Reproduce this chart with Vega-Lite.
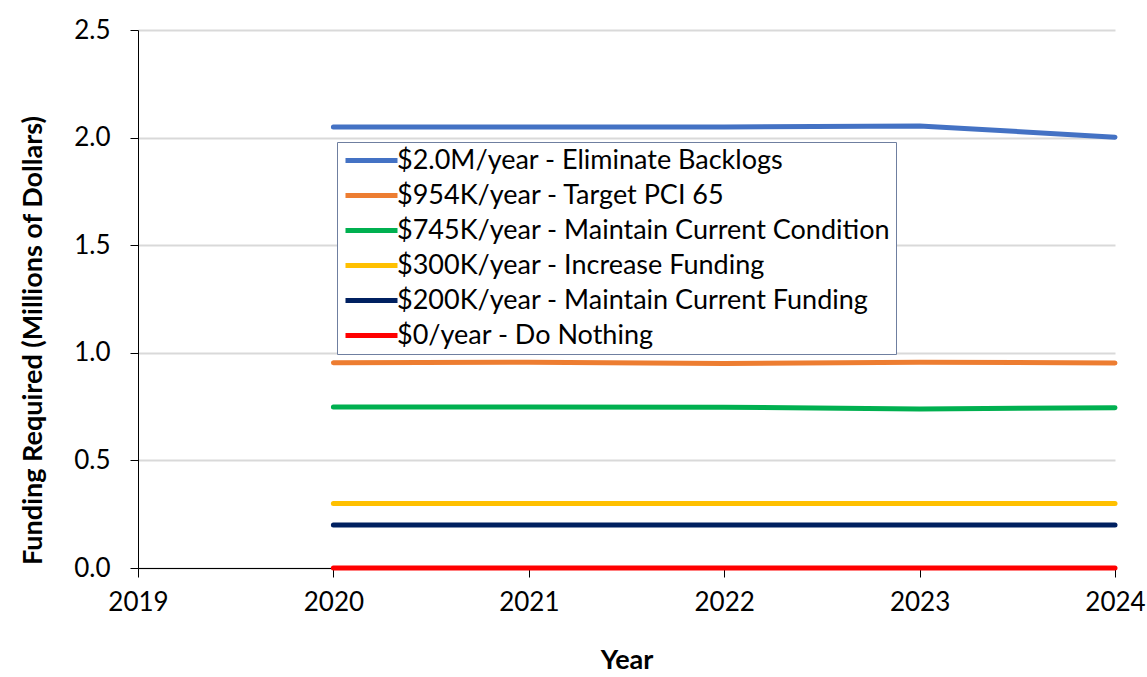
{
  "$schema": "https://vega.github.io/schema/vega-lite/v6.json",
  "width": 977,
  "height": 538,
  "autosize": {"type": "none"},
  "padding": {"left": 138, "top": 30, "right": 32, "bottom": 109},
  "background": "white",
  "config": {
    "font": "Lato",
    "view": {"stroke": null}
  },
  "data": {
    "values": [
      {"year": 2020, "value": 2.049, "series": "$2.0M/year - Eliminate Backlogs"},
      {"year": 2021, "value": 2.049, "series": "$2.0M/year - Eliminate Backlogs"},
      {"year": 2022, "value": 2.049, "series": "$2.0M/year - Eliminate Backlogs"},
      {"year": 2023, "value": 2.054, "series": "$2.0M/year - Eliminate Backlogs"},
      {"year": 2024, "value": 2.002, "series": "$2.0M/year - Eliminate Backlogs"},
      {"year": 2020, "value": 0.954, "series": "$954K/year - Target PCI 65"},
      {"year": 2021, "value": 0.956, "series": "$954K/year - Target PCI 65"},
      {"year": 2022, "value": 0.950, "series": "$954K/year - Target PCI 65"},
      {"year": 2023, "value": 0.956, "series": "$954K/year - Target PCI 65"},
      {"year": 2024, "value": 0.953, "series": "$954K/year - Target PCI 65"},
      {"year": 2020, "value": 0.748, "series": "$745K/year - Maintain Current Condition"},
      {"year": 2021, "value": 0.748, "series": "$745K/year - Maintain Current Condition"},
      {"year": 2022, "value": 0.747, "series": "$745K/year - Maintain Current Condition"},
      {"year": 2023, "value": 0.739, "series": "$745K/year - Maintain Current Condition"},
      {"year": 2024, "value": 0.745, "series": "$745K/year - Maintain Current Condition"},
      {"year": 2020, "value": 0.3, "series": "$300K/year - Increase Funding"},
      {"year": 2021, "value": 0.3, "series": "$300K/year - Increase Funding"},
      {"year": 2022, "value": 0.3, "series": "$300K/year - Increase Funding"},
      {"year": 2023, "value": 0.3, "series": "$300K/year - Increase Funding"},
      {"year": 2024, "value": 0.3, "series": "$300K/year - Increase Funding"},
      {"year": 2020, "value": 0.2, "series": "$200K/year - Maintain Current Funding"},
      {"year": 2021, "value": 0.2, "series": "$200K/year - Maintain Current Funding"},
      {"year": 2022, "value": 0.2, "series": "$200K/year - Maintain Current Funding"},
      {"year": 2023, "value": 0.2, "series": "$200K/year - Maintain Current Funding"},
      {"year": 2024, "value": 0.2, "series": "$200K/year - Maintain Current Funding"},
      {"year": 2020, "value": 0.0, "series": "$0/year - Do Nothing"},
      {"year": 2021, "value": 0.0, "series": "$0/year - Do Nothing"},
      {"year": 2022, "value": 0.0, "series": "$0/year - Do Nothing"},
      {"year": 2023, "value": 0.0, "series": "$0/year - Do Nothing"},
      {"year": 2024, "value": 0.0, "series": "$0/year - Do Nothing"}
    ]
  },
  "mark": {"type": "line", "strokeWidth": 5, "strokeCap": "round", "strokeJoin": "round", "clip": false},
  "encoding": {
    "x": {
      "field": "year",
      "type": "quantitative",
      "scale": {"domain": [2019, 2024], "nice": false, "zero": false},
      "axis": {
        "title": "Year",
        "titleFont": "Lato",
        "titleFontSize": 27,
        "titleFontWeight": "bold",
        "titleColor": "black",
        "titlePadding": 32,
        "values": [2019, 2020, 2021, 2022, 2023, 2024],
        "format": "d",
        "labelFontSize": 26,
        "labelColor": "black",
        "labelPadding": 12,
        "labelFlush": false,
        "grid": false,
        "domainColor": "black",
        "tickColor": "black",
        "tickSize": 9,
        "tickWidth": 1,
        "domainWidth": 1
      }
    },
    "y": {
      "field": "value",
      "type": "quantitative",
      "scale": {"domain": [0, 2.5], "nice": false},
      "axis": {
        "title": "Funding Required (Millions of Dollars)",
        "titleFont": "Lato",
        "titleFontSize": 27,
        "titleFontWeight": "bold",
        "titleColor": "black",
        "titlePadding": 26,
        "titleY": 310,
        "values": [0, 0.5, 1.0, 1.5, 2.0, 2.5],
        "format": ".1f",
        "labelFontSize": 26,
        "labelColor": "black",
        "labelPadding": 20,
        "gridColor": "#d9d9d9",
        "gridWidth": 2,
        "domainColor": "black",
        "tickColor": "black",
        "tickSize": 8,
        "tickWidth": 1
      }
    },
    "color": {
      "field": "series",
      "type": "nominal",
      "sort": null,
      "scale": {
        "domain": [
          "$2.0M/year - Eliminate Backlogs",
          "$954K/year - Target PCI 65",
          "$745K/year - Maintain Current Condition",
          "$300K/year - Increase Funding",
          "$200K/year - Maintain Current Funding",
          "$0/year - Do Nothing"
        ],
        "range": ["#4472C4", "#ED7D31", "#00B050", "#FFC000", "#002060", "#FF0000"]
      },
      "legend": {
        "title": null,
        "orient": "none",
        "legendX": 199,
        "legendY": 112,
        "fillColor": "white",
        "strokeColor": "#6f7fa0",
        "padding": 5,
        "symbolType": "M-2.6,0H2.6",
        "symbolSize": 400,
        "symbolOffset": 16,
        "symbolStrokeWidth": 5,
        "labelFontSize": 27,
        "labelColor": "black",
        "labelOffset": 12,
        "labelLimit": 700,
        "rowPadding": 7
      }
    }
  }
}
